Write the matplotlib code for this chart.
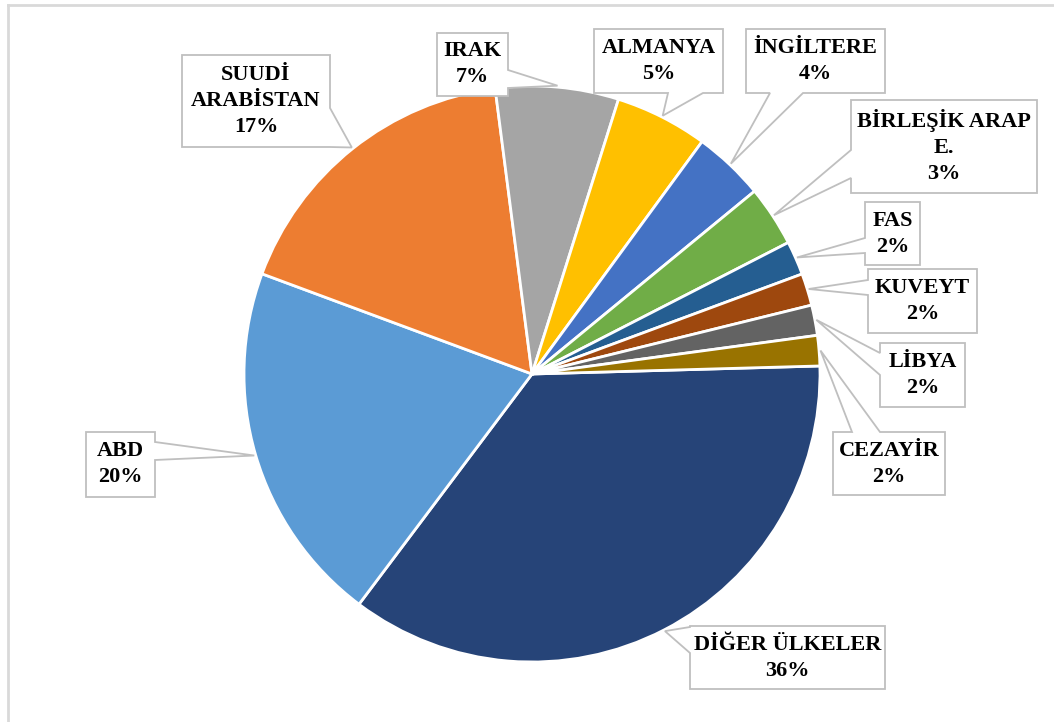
import matplotlib.pyplot as plt
import numpy as np
from matplotlib.patches import Polygon
from matplotlib.lines import Line2D

# pie data, clockwise from the right side
countries = ["DİĞER ÜLKELER", "ABD", "SUUDİ\nARABİSTAN", "IRAK", "ALMANYA",
             "İNGİLTERE", "BİRLEŞİK ARAP\nE.", "FAS", "KUVEYT", "LİBYA", "CEZAYİR"]
shares = [35.7, 20.4, 17.3, 6.9, 5.2, 4.0, 3.4, 1.9, 1.8, 1.7, 1.7]
colors = ["#264478", "#5B9BD5", "#ED7D31", "#A5A5A5", "#FFC000", "#4472C4",
          "#70AD47", "#255E91", "#9E480E", "#636363", "#997300"]

# callout boxes in pixel coords (x0, y0, x1, y1), y measured from top,
# plus which edge the pointer leaves from and the span of its base
W, H = 1054, 722
boxes = [(690, 626, 885, 689), (86, 432, 155, 497), (182, 55, 330, 147),
         (437, 33, 508, 96), (594, 29, 723, 93), (746, 29, 885, 93),
         (851, 100, 1037, 193), (865, 202, 920, 265), (868, 269, 977, 333),
         (880, 343, 965, 407), (833, 432, 945, 495)]
pointers = [("left", 627, 653), ("right", 442, 460), ("right", 108, 147),
            ("right", 70, 88), ("bottom", 668, 703), ("bottom", 770, 803),
            ("left", 150, 178), ("left", 238, 253), ("left", 280, 295),
            ("left", 353, 375), ("top", 852, 880)]

cx, cy, r = 532, H - 374, 288


def callout_poly(box, ptr, tip):
    x0, y0, x1, y1 = box
    edge, a, b = ptr
    TL, TR, BR, BL = (x0, y0), (x1, y0), (x1, y1), (x0, y1)
    if edge == "top":
        pts = [TL, (a, y0), tip, (b, y0), TR, BR, BL]
    elif edge == "right":
        pts = [TL, TR, (x1, a), tip, (x1, b), BR, BL]
    elif edge == "bottom":
        pts = [TL, TR, BR, (b, y1), tip, (a, y1), BL]
    else:
        pts = [TL, TR, BR, BL, (x0, b), tip, (x0, a)]
    return [(x, H - y) for x, y in pts]


fig = plt.figure(figsize=(W / 100, H / 100), dpi=100)
ax = fig.add_axes([0, 0, 1, 1])

wedges, _ = ax.pie(shares, colors=colors, startangle=1.6, counterclock=False,
                   center=(cx, cy), radius=r,
                   wedgeprops=dict(edgecolor="white", linewidth=2))
ax.set_xlim(0, W)
ax.set_ylim(0, H)
ax.axis("off")

total = sum(shares)
for w, name, val, box, ptr in zip(wedges, countries, shares, boxes, pointers):
    mid = np.deg2rad((w.theta1 + w.theta2) / 2)
    tip = (cx + 1.005 * r * np.cos(mid), H - (cy + 1.005 * r * np.sin(mid)))
    ax.add_patch(Polygon(callout_poly(box, ptr, tip), closed=True,
                         facecolor="white", edgecolor="#BFBFBF", lw=1.3, zorder=3))
    bx = (box[0] + box[2]) / 2
    by = H - (box[1] + box[3]) / 2
    ax.text(bx, by, f"{name}\n{round(val / total * 100)}%", ha="center", va="center",
            fontsize=16, fontweight="bold", family="Liberation Serif",
            color="black", linespacing=1.4, zorder=4)

# chart frame (only top and left visible)
fig.add_artist(Line2D([7.5 / W, 1], [1 - 4.5 / H, 1 - 4.5 / H], color="#D9D9D9", lw=2))
fig.add_artist(Line2D([7.5 / W, 7.5 / W], [0, 1 - 4.5 / H], color="#D9D9D9", lw=2))

fig.savefig("out.png", dpi=100, facecolor="white")
